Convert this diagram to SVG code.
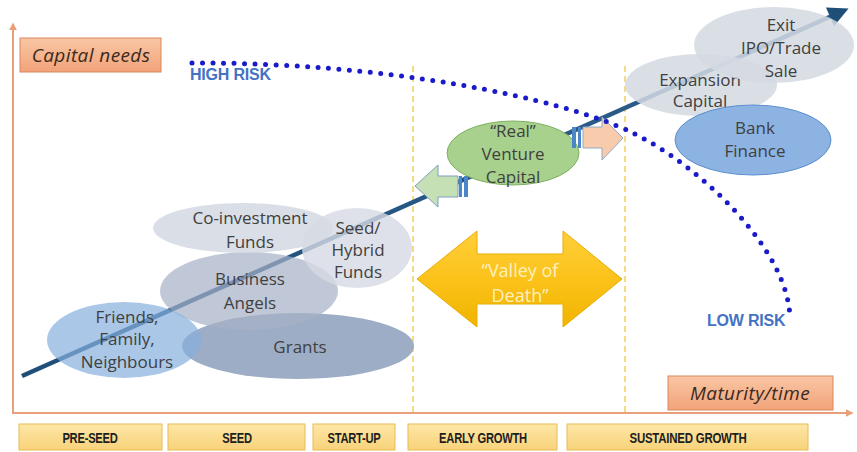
<svg xmlns="http://www.w3.org/2000/svg" width="857" height="452" viewBox="0 0 857 452">
  <defs>
    <linearGradient id="peachFill" x1="0" y1="0" x2="0" y2="1">
      <stop offset="0" stop-color="#f9c6a4"/>
      <stop offset="1" stop-color="#f2a37a"/>
    </linearGradient>
    <linearGradient id="stageFill" x1="0" y1="0" x2="0" y2="1">
      <stop offset="0" stop-color="#fde7a6"/>
      <stop offset="1" stop-color="#f8d27a"/>
    </linearGradient>
    <linearGradient id="goldFill" x1="0" y1="0" x2="0" y2="1">
      <stop offset="0" stop-color="#ffcf3a"/>
      <stop offset="0.5" stop-color="#fbc21a"/>
      <stop offset="1" stop-color="#f0b400"/>
    </linearGradient>
    <linearGradient id="growthLine" x1="0" y1="1" x2="1" y2="0">
      <stop offset="0" stop-color="#1f4e79"/>
      <stop offset="1" stop-color="#2f5f8f"/>
    </linearGradient>
    <marker id="axisHead" viewBox="0 0 10 10" refX="8" refY="5" markerWidth="4" markerHeight="4" orient="auto">
      <path d="M0,0 L10,5 L0,10 z" fill="#e8a07a"/>
    </marker>
    <marker id="growthHead" viewBox="0 0 10 10" refX="7" refY="5" markerWidth="5" markerHeight="4.5" orient="auto">
      <path d="M0,0 L10,5 L0,10 z" fill="#1f4e79"/>
    </marker>
  </defs>
  <style>
    .lbl { font-family: "Open Sans", "Liberation Sans", sans-serif; font-size: 17px; fill: #404040; text-anchor: middle; }
    .axisbox { fill: url(#peachFill); stroke: #d9875b; stroke-width: 1; }
    .axistxt { font-family: "Open Sans", "Liberation Sans", sans-serif; font-style: italic; font-size: 19px; letter-spacing: 0.4px; fill: #3a2a20; text-anchor: middle; }
    .stage { fill: url(#stageFill); stroke: #eabb55; stroke-width: 1; }
    .stagetxt { font-family: "Liberation Sans", sans-serif; font-weight: bold; font-size: 14px; fill: #1e1e1e; text-anchor: middle; letter-spacing: -0.3px; }
    .risk { font-family: "Liberation Sans", sans-serif; font-weight: bold; font-size: 16px; fill: #4472c4; letter-spacing: -0.2px; }
    .phase { stroke: #f0c84a; stroke-width: 1.3; stroke-dasharray: 6 4; fill: none; }
    .bar { fill: #4a86c8; }
    .vod { font-family: "Open Sans", "Liberation Sans", sans-serif; font-size: 18px; fill: #fdf0c0; text-anchor: middle; }
  </style>

  <rect width="857" height="452" fill="#ffffff"/>

  <g id="axes">
    <line x1="13" y1="413" x2="13" y2="24" stroke="#e8a07a" stroke-width="2" marker-end="url(#axisHead)"/>
    <line x1="12" y1="413" x2="852" y2="413" stroke="#e8a07a" stroke-width="2" marker-end="url(#axisHead)"/>
  </g>

  <g id="phase-lines">
    <line class="phase" x1="413" y1="66" x2="413" y2="412"/>
    <line class="phase" x1="625" y1="66" x2="625" y2="412"/>
  </g>

  <g id="connectors">
    <!-- growth trajectory -->
    <line x1="22" y1="376" x2="843" y2="11" stroke="url(#growthLine)" stroke-width="4.5" marker-end="url(#growthHead)"/>
  </g>

  <g id="node-grants">
    <ellipse cx="298" cy="346" rx="116" ry="33" fill="#8c9fbb" opacity="0.85"/>
    <text class="lbl" x="300" y="353">Grants</text>
  </g>
  <g id="node-business-angels">
    <ellipse cx="249" cy="291" rx="89" ry="39" fill="#a5b1c6" opacity="0.7"/>
    <text class="lbl" x="250" y="285">Business</text>
    <text class="lbl" x="250" y="309">Angels</text>
  </g>
  <g id="node-coinvestment">
    <ellipse cx="243" cy="228" rx="90" ry="25" fill="#d3d8e2" opacity="0.85"/>
    <text class="lbl" x="250" y="224">Co-investment</text>
    <text class="lbl" x="250" y="248">Funds</text>
  </g>
  <g id="node-seed-hybrid">
    <ellipse cx="357" cy="248" rx="55" ry="40" fill="#d6dae3" opacity="0.8"/>
    <text class="lbl" x="358" y="234">Seed/</text>
    <text class="lbl" x="358" y="256">Hybrid</text>
    <text class="lbl" x="358" y="278">Funds</text>
  </g>
  <g id="node-friends">
    <ellipse cx="124" cy="340" rx="77" ry="38" fill="#86afdd" opacity="0.7"/>
    <text class="lbl" x="127" y="323">Friends,</text>
    <text class="lbl" x="127" y="345">Family,</text>
    <text class="lbl" x="127" y="368">Neighbours</text>
  </g>
  <g id="node-venture-capital">
    <ellipse cx="513" cy="153" rx="66" ry="32" fill="#a9d18e" stroke="#7fb060" stroke-width="1"/>
    <text class="lbl" x="513" y="137">“Real”</text>
    <text class="lbl" x="513" y="160">Venture</text>
    <text class="lbl" x="513" y="183">Capital</text>
  </g>
  <g id="node-expansion">
    <ellipse cx="701" cy="85" rx="76" ry="31" fill="#d4d9e2" opacity="0.85"/>
    <text class="lbl" x="700" y="86">Expansion</text>
    <text class="lbl" x="700" y="107">Capital</text>
  </g>
  <g id="node-exit">
    <ellipse cx="774" cy="45" rx="80" ry="38" fill="#d4d9e2" opacity="0.85"/>
    <text class="lbl" x="781" y="31">Exit</text>
    <text class="lbl" x="781" y="54">IPO/Trade</text>
    <text class="lbl" x="781" y="77">Sale</text>
  </g>
  <g id="node-bank-finance">
    <ellipse cx="753" cy="140" rx="78" ry="35" fill="#8db3e2" stroke="#5b8fcf" stroke-width="1"/>
    <text class="lbl" x="755" y="134">Bank</text>
    <text class="lbl" x="755" y="157">Finance</text>
  </g>

  <g id="arrow-back-to-startup">
    <polygon points="415,186 438,165 438,176 458,176 458,197 438,197 438,207" fill="#c5e0b4" stroke="#7f9fc6" stroke-width="1"/>
    <rect class="bar" x="459" y="176" width="3" height="21"/>
    <rect class="bar" x="464" y="176" width="4" height="21"/>
  </g>
  <g id="arrow-to-expansion">
    <polygon points="583,127 602,127 602,117 623,138 602,160 602,148 583,148" fill="#f8cbad" stroke="#8eaacb" stroke-width="1"/>
    <rect class="bar" x="572" y="127" width="4" height="21"/>
    <rect class="bar" x="578" y="127" width="3" height="21"/>
  </g>

  <g id="node-valley-of-death">
    <polygon points="417,279 477,231 477,254 563,254 563,231 622,279 563,327 563,304 477,304 477,327" fill="url(#goldFill)" stroke="#e8ad00" stroke-width="1"/>
    <text class="vod" x="520" y="277">“Valley of</text>
    <text class="vod" x="520" y="302">Death”</text>
  </g>

  <g id="risk-curve">
    <path d="M192,63 C380,62 560,97 633,133 C700,166 790,250 790,320" fill="none" stroke="#1a1ac8" stroke-width="5" stroke-linecap="round" stroke-dasharray="0 10.5"/>
    <text class="risk" x="190" y="80">HIGH RISK</text>
    <text class="risk" x="707" y="326">LOW RISK</text>
  </g>

  <g id="node-capital-needs">
    <rect class="axisbox" x="20" y="38" width="141" height="34"/>
    <text class="axistxt" x="91" y="62">Capital needs</text>
  </g>
  <g id="node-maturity">
    <rect class="axisbox" x="668" y="376" width="165" height="34"/>
    <text class="axistxt" x="750" y="400">Maturity/time</text>
  </g>

  <g id="stages">
    <g id="stage-pre-seed">
      <rect class="stage" x="19" y="424" width="143" height="26"/>
      <text class="stagetxt" transform="translate(90,443) scale(0.8,1)">PRE-SEED</text>
    </g>
    <g id="stage-seed">
      <rect class="stage" x="168" y="424" width="137" height="26"/>
      <text class="stagetxt" transform="translate(237,443) scale(0.8,1)">SEED</text>
    </g>
    <g id="stage-start-up">
      <rect class="stage" x="313" y="424" width="82" height="26"/>
      <text class="stagetxt" transform="translate(354,443) scale(0.8,1)">START-UP</text>
    </g>
    <g id="stage-early-growth">
      <rect class="stage" x="408" y="424" width="149" height="26"/>
      <text class="stagetxt" transform="translate(483,443) scale(0.8,1)">EARLY GROWTH</text>
    </g>
    <g id="stage-sustained-growth">
      <rect class="stage" x="567" y="424" width="241" height="26"/>
      <text class="stagetxt" transform="translate(688,443) scale(0.82,1)">SUSTAINED GROWTH</text>
    </g>
  </g>
</svg>
